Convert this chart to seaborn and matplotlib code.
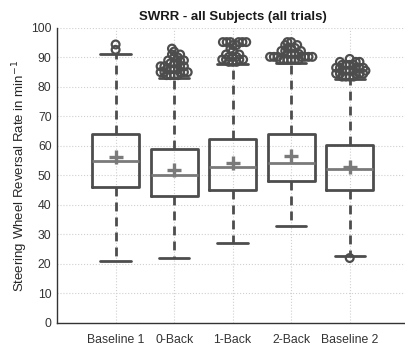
import numpy as np
import pandas as pd
import matplotlib
matplotlib.use("Agg")
import matplotlib.pyplot as plt
import seaborn as sns

categories = ["Baseline 1", "0-Back", "1-Back", "2-Back", "Baseline 2"]
q1 = [46.0, 43.0, 45.0, 48.0, 45.0]
median = [55.0, 50.1, 53.0, 54.1, 52.3]
q3 = [64.0, 59.0, 62.3, 64.0, 60.3]
means = [56.1, 51.7, 54.1, 56.6, 53.0]
whisker_low = [21.0, 22.0, 27.0, 33.0, 22.7]
whisker_high = [91.2, 82.9, 87.8, 88.2, 82.8]

out_b1 = [92.6, 94.4]
out_0b = [84, 84, 84, 84, 85, 85, 85, 85, 85, 86, 86, 86, 86,
          87, 87, 87, 87, 88, 88, 88, 89, 89, 89, 90, 90, 91, 91, 92, 93]
out_1b = [88.5, 88.5, 88.5, 89.3, 89.3, 89.3, 89.3, 90.2, 90.2, 90.2,
          91.0, 91.0, 92.0, 93.0, 94.2, 94.2, 95.2, 95.2, 95.2, 95.2,
          95.2, 95.2]
out_2b = [89.2, 89.2, 89.2, 89.2, 89.2, 89.2, 90.2, 90.2, 90.2, 90.2,
          90.2, 90.2, 90.2, 91.2, 91.2, 91.2, 91.2, 92.2, 92.2, 92.2,
          93.2, 93.2, 93.2, 94.2, 94.2, 95.2, 95.2]
out_b2 = [22.0, 83.5, 83.5, 83.5, 83.5, 84.5, 84.5, 84.5, 84.5, 84.5,
          85.5, 85.5, 85.5, 85.5, 85.5, 86.5, 86.5, 86.5, 86.5, 86.5,
          87.5, 87.5, 87.5, 87.5, 88.5, 88.5, 88.5, 89.5]
outliers = [out_b1, out_0b, out_1b, out_2b, out_b2]

title = "SWRR - all Subjects (all trials)"
ylabel = "Steering Wheel Reversal Rate in min$^{-1}$"
yticks = list(range(0, 101, 10))

sns.set_theme(style="whitegrid")
plt.rcParams["font.family"] = ["Liberation Sans", "DejaVu Sans"]

fig = plt.figure(figsize=(4.05, 3.45), dpi=100)
ax = fig.add_axes([0.141, 0.064, 0.867, 0.855])
ax.set_xlim(-1, 5)
ax.set_ylim(0, 100)

rows = []
for c, vals in zip(categories, outliers):
    for v in vals:
        rows.append({"cond": c, "val": v})
df = pd.DataFrame(rows)

dark = "#4d4d4d"
n_before = len(ax.collections)
sns.swarmplot(data=df, x="cond", y="val", order=categories, ax=ax,
              size=2.6, color=dark, linewidth=0, zorder=3)
ax.set_xlim(-1, 5)
ax.set_ylim(0, 100)
swarm_colls = list(ax.collections[n_before:])
fig.canvas.draw()
for coll in swarm_colls:
    offs = np.asarray(coll.get_offsets())
    coll.remove()
    ax.scatter(offs[:, 0], offs[:, 1], s=5.6 ** 2, facecolors="none",
               edgecolors=dark, linewidths=1.6, zorder=3)

stats = []
for i in range(len(categories)):
    stats.append({"med": median[i], "q1": q1[i], "q3": q3[i],
                  "whislo": whisker_low[i], "whishi": whisker_high[i],
                  "mean": means[i], "fliers": []})

ax.bxp(stats, positions=range(len(categories)), widths=0.8,
       capwidths=0.52, showmeans=True, showfliers=False,
       manage_ticks=False,
       boxprops=dict(color=dark, linewidth=2),
       whiskerprops=dict(color=dark, linewidth=2.0, linestyle=(0, (3.2, 2.2))),
       capprops=dict(color=dark, linewidth=2),
       medianprops=dict(color="#7a7a7a", linewidth=2),
       meanprops=dict(marker="+", markersize=10, markeredgewidth=2.4,
                      markeredgecolor="#7a7a7a", markerfacecolor="none"),
       zorder=2)

ax.set_xlim(-1, 5)
ax.set_ylim(0, 100)
ax.set_yticks(yticks)
ax.set_xticks(range(len(categories)))
ax.set_xticklabels(categories)
ax.set_xlabel("")
ax.set_ylabel(ylabel, fontsize=9.5, color="#262626", labelpad=1)
ax.set_title(title, fontsize=9.5, fontweight="bold", color="#1a1a1a", pad=6)
ax.tick_params(axis="both", labelsize=8.8, colors="#333333", length=0, pad=4)
ax.tick_params(axis="x", pad=8)

ax.grid(True, color="#d0d0d0", linestyle=":", linewidth=0.8)
ax.set_axisbelow(True)
for s in ["top", "right"]:
    ax.spines[s].set_visible(False)
for s in ["left", "bottom"]:
    ax.spines[s].set_visible(True)
    ax.spines[s].set_color("#333333")
    ax.spines[s].set_linewidth(1.0)

fig.savefig("out.png", dpi=100)
